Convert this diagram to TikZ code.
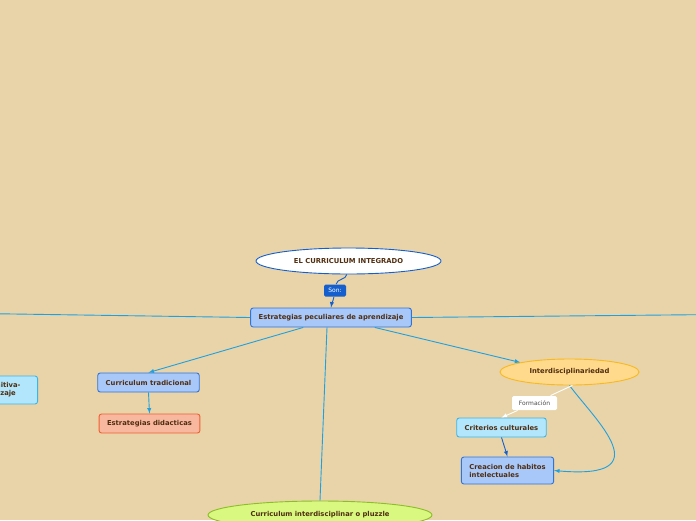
\documentclass[tikz,border=0pt]{standalone}
\usepackage{fontspec}
\setmainfont{DejaVu Sans}
\usetikzlibrary{shapes.geometric}
\definecolor{fondo}{RGB}{232,212,168}
\definecolor{texto}{RGB}{80,45,15}
\definecolor{linea}{RGB}{30,160,225}
\definecolor{azul}{RGB}{20,95,205}
\definecolor{cajaazul}{RGB}{168,200,250}
\definecolor{bordeazul}{RGB}{50,115,215}
\definecolor{cajaceleste}{RGB}{178,230,252}
\definecolor{bordeceleste}{RGB}{60,180,232}
\definecolor{cajasalmon}{RGB}{248,184,160}
\definecolor{bordesalmon}{RGB}{240,95,50}
\definecolor{cajalima}{RGB}{216,248,128}
\definecolor{bordelima}{RGB}{140,190,40}
\definecolor{cajaoro}{RGB}{255,218,140}
\definecolor{bordeoro}{RGB}{248,184,32}
\tikzset{> = latex, every picture/.style={line width=0.9pt}}
\tikzset{
  caja/.style={rectangle, rounded corners=2.5pt, draw, minimum height=19, inner xsep=8, font=\fontsize{6.8}{8}\selectfont\bfseries, text=texto},
  elipse/.style={ellipse, draw, inner sep=0pt, font=\fontsize{6.8}{8}\selectfont\bfseries, text=texto}
}

\begin{document}
\begin{tikzpicture}[x=1pt, y=-1pt]
\fill[fondo] (0,0) rectangle (696,520);
\clip (0,0) rectangle (696,520);

\begin{scope}[every node/.style={caja, draw=bordeazul, fill=cajaazul}]
\node (EP) at (331,317.5) {Estrategias peculiares de aprendizaje};
\node (CT) at (148.5,382.5) {Curriculum tradicional};
\node[align=left, minimum height=27] (CH) at (507.5,470.5) {Creacion de habitos\\intelectuales};
\end{scope}

\begin{scope}[every node/.style={caja, draw=bordeceleste, fill=cajaceleste}]
\node (CC) at (501.5,427.5) {Criterios culturales};
\node[align=left, minimum height=28, inner xsep=17, anchor=east] (CA) at (38,390) {Teoría cognitiva-\\del aprendizaje};
\end{scope}

\node[caja, draw=bordesalmon, fill=cajasalmon] (ED) at (149.5,423.5) {Estrategias didacticas};

\node[elipse, draw=azul, fill=white, minimum width=185, minimum height=26] (CI) at (348.5,261) {EL CURRICULUM INTEGRADO};
\node[elipse, draw=bordeoro, fill=cajaoro, minimum width=139, minimum height=26] (ID) at (569.5,372) {Interdisciplinariedad};
\node[elipse, draw=bordelima, fill=cajalima, minimum width=224, minimum height=28] (CIP) at (320,515) {Curriculum interdisciplinar o pluzzle};

% etiquetas
\node[rectangle, rounded corners=1.5pt, fill=azul, text=white, inner sep=2pt, minimum width=22, minimum height=12, font=\fontsize{6}{7}\selectfont] (Son) at (335,290.5) {Son:};
\node[rectangle, rounded corners=1.5pt, fill=white, text=black!70, inner sep=2pt, minimum width=45, minimum height=14, font=\fontsize{6}{7}\selectfont] (F) at (534.5,403) {Formación};

\coordinate (izq) at (-20,313.5);
\coordinate (der) at (716,314.5);

\begin{scope}[every edge/.style={draw, azul}]
    \path (CI.263) edge[out=-100, in=80] (Son);
    \path [->] (Son) edge[out=-100, in=80] (EP.north);
    \path [->] (CC.south) edge (CH.north);
\end{scope}

\begin{scope}[every edge/.style={draw, linea}]
    \path (EP.west) edge (izq);
    \path (EP.east) edge (der);
    \path [->] (EP.south west) ++(53,0) edge (CT.north);
    \path (EP.south) ++(-4,0) edge (CIP.north);
    \path [->] (EP.south east) ++(-37,0) edge (ID.169);
    \path [->] (CT.south) edge (ED.north);
\end{scope}

\draw[linea, ->] (ID.south) .. controls (595,420) and (662,480) .. (CH.east);
\draw[white] (ID.282) -- (F);
\draw[white, ->] (F) -- (CC.north);
\end{tikzpicture}
\end{document}
